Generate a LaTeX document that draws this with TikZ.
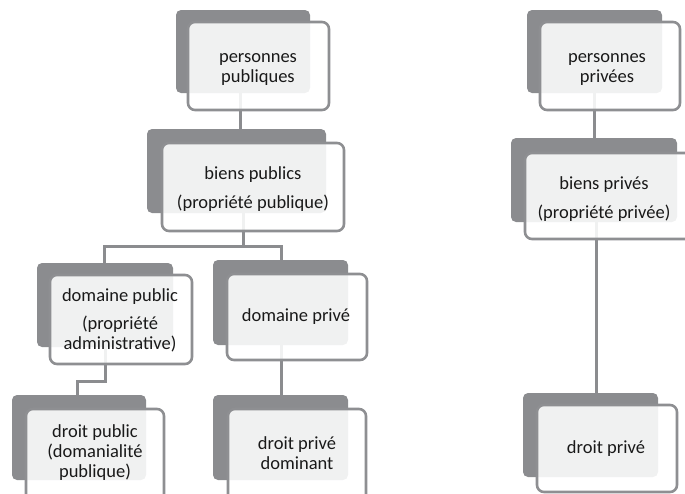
\documentclass[tikz,border=0pt]{standalone}
\usepackage{fontspec}
\setmainfont{Carlito}
\definecolor{backc}{HTML}{8B8C8F}
\definecolor{edgec}{HTML}{8E8F92}
\tikzset{
  backbox/.style={rectangle, rounded corners=5pt, fill=backc, draw=none, inner sep=0pt},
  frontbox/.style={rectangle, rounded corners=7pt, fill=white, fill opacity=0.88, draw=edgec, draw opacity=1, line width=2.6pt, inner sep=0pt},
  label/.style={align=center, font=\fontsize{18.5}{20}\selectfont, text=black!90, inner sep=0pt},
  conn/.style={draw=backc, line width=3pt},
}
\begin{document}
\begin{tikzpicture}[x=1pt,y=-1pt]
\useasboundingbox (0,0) rectangle (685,493);
\clip (0,0) rectangle (685,493);
% back boxes
\node[backbox, minimum width=134, minimum height=83] (n1b) at (243,51.5) {};
\node[backbox, minimum width=179, minimum height=84] (n2b) at (236.5,171) {};
\node[backbox, minimum width=136, minimum height=84] (n3b) at (105,305) {};
\node[backbox, minimum width=135, minimum height=85] (n4b) at (280.5,302.5) {};
\node[backbox, minimum width=134, minimum height=85] (n5b) at (79,437.5) {};
\node[backbox, minimum width=135, minimum height=85] (n6b) at (280.5,437.5) {};
\node[backbox, minimum width=135, minimum height=83] (n7b) at (594.5,51.5) {};
\node[backbox, minimum width=166, minimum height=84] (n8b) at (594,180) {};
\node[backbox, minimum width=135, minimum height=84] (n9b) at (590.5,435) {};
% connectors
\draw[conn] (240,0 |- n1b.south) -- (240,0 |- n2b.north);
\draw[conn] (243,0 |- n2b.south) -- (243,246) -| ([yshift=-3pt]104,0 |- n3b.north);
\draw[conn] (243,246) -| ([yshift=-3pt]281,0 |- n4b.north);
\draw[conn] (105,0 |- n3b.south) -- (105,381) -| ([yshift=-3pt]77,0 |- n5b.north);
\draw[conn] (281,0 |- n4b.south) -- ([yshift=-3pt]281,0 |- n6b.north);
\draw[conn] (594,0 |- n7b.south) -- ([yshift=-3pt]594,0 |- n8b.north);
\draw[conn] (596,0 |- n8b.south) -- ([yshift=-3pt]596,0 |- n9b.north);
% front boxes
\node[frontbox, minimum width=141, minimum height=88] (n1) at (258.5,66) {};
\node[frontbox, minimum width=182, minimum height=88] (n2) at (253,187) {};
\node[frontbox, minimum width=142, minimum height=89] (n3) at (121,319.5) {};
\node[frontbox, minimum width=140, minimum height=86] (n4) at (297,317) {};
\node[frontbox, minimum width=138, minimum height=96] (n5) at (95,457) {};
\node[frontbox, minimum width=138, minimum height=96] (n6) at (297,457) {};
\node[frontbox, minimum width=140, minimum height=88] (n7) at (610,66) {};
\node[frontbox, minimum width=180, minimum height=86] (n8) at (615,196) {};
\node[frontbox, minimum width=140, minimum height=87] (n9) at (607,448.5) {};
% labels
\node[label] (t1) at (258,69) {personnes\\publiques};
\node[label] (t2) at (253,189) {biens publics\\[9pt](propriété publique)};
\node[label] (t3) at (120,320) {domaine public\\[8pt](propriété\\administrative)};
\node[label] (t4) at (296,317) {domaine privé};
\node[label] (t5) at (95,453) {droit public\\(domanialité\\publique)};
\node[label] (t6) at (297,453) {droit privé\\dominant};
\node[label] (t7) at (607,69) {personnes\\privées};
\node[label] (t8) at (604,199) {biens privés\\[9pt](propriété privée)};
\node[label] (t9) at (606,449) {droit privé};
\end{tikzpicture}
\end{document}
